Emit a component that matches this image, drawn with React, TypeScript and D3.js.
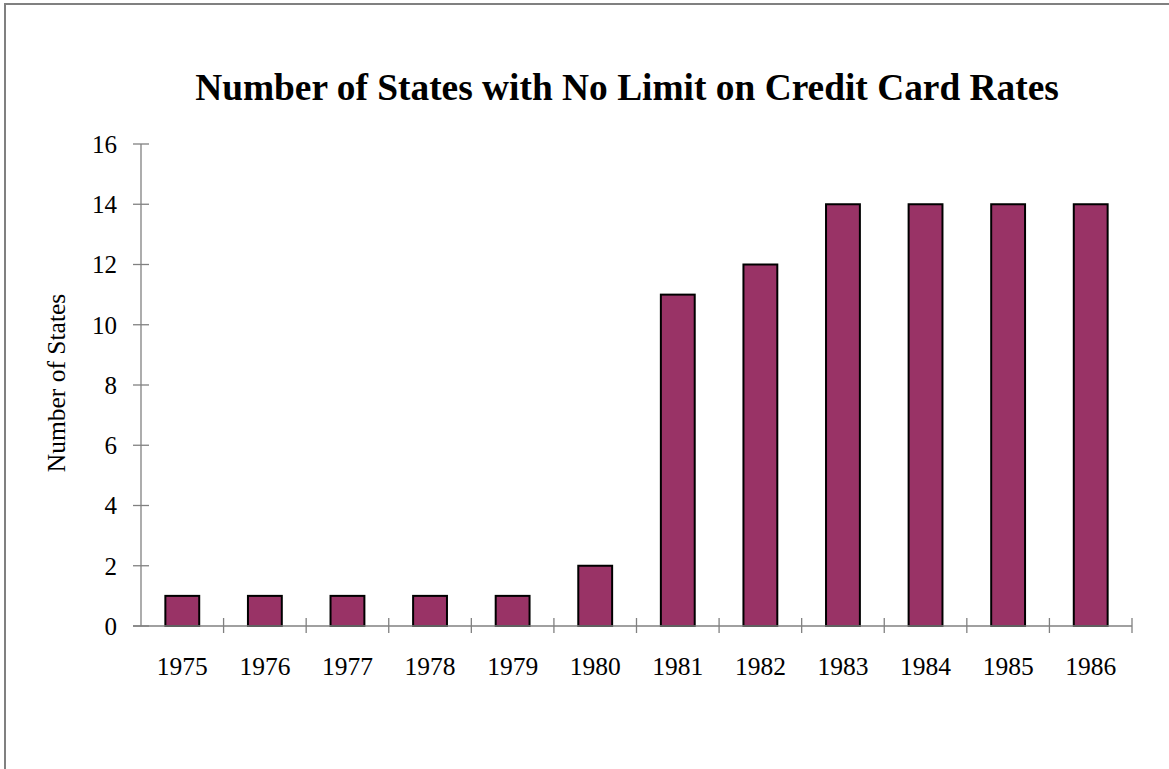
import React from "react";
import * as d3 from "d3";

const years = ["1975", "1976", "1977", "1978", "1979", "1980", "1981", "1982", "1983", "1984", "1985", "1986"];
const states = [1, 1, 1, 1, 1, 2, 11, 12, 14, 14, 14, 14];
const yTicks = [0, 2, 4, 6, 8, 10, 12, 14, 16];

const W = 1169;
const H = 769;
const left = 141;
const right = 1132;
const top = 144;
const bottom = 626;

export default function App() {
  const x = d3.scaleBand<string>().domain(years).range([left, right]).paddingInner(0).paddingOuter(0);
  const y = d3.scaleLinear().domain([0, 16]).range([bottom, top]);
  const bw = x.bandwidth() * 0.41;
  const font = "'Liberation Serif', 'Times New Roman', serif";
  const axisColor = "#808080";
  return (
    <svg width={W} height={H} style={{ position: "absolute", left: 0, top: 0, background: "#fff" }}>
      <rect x={5} y={4} width={W + 10} height={H + 10} fill="none" stroke={axisColor} strokeWidth={2} />
      <text x={627} y={100} textAnchor="middle" fontFamily={font} fontWeight="bold" fontSize={37.4} fill="#000">
        Number of States with No Limit on Credit Card Rates
      </text>
      <text
        transform={`translate(65,383) rotate(-90)`}
        textAnchor="middle"
        fontFamily={font}
        fontSize={25.5}
        fill="#000"
      >
        Number of States
      </text>
      {years.map((yr, i) => (
        <rect
          key={yr}
          x={(x(yr) as number) + x.bandwidth() / 2 - bw / 2}
          y={y(states[i])}
          width={bw}
          height={y(0) - y(states[i])}
          fill="#993366"
          stroke="#000"
          strokeWidth={2}
        />
      ))}
      <line x1={left} x2={left} y1={top} y2={bottom} stroke={axisColor} strokeWidth={1.3} />
      <line x1={left - 8} x2={right} y1={bottom} y2={bottom} stroke={axisColor} strokeWidth={1.3} />
      {yTicks.map((t) => (
        <g key={t}>
          <line x1={left - 8} x2={left + 8} y1={y(t)} y2={y(t)} stroke={axisColor} strokeWidth={1.3} />
          <text x={117} y={y(t)} dy="0.35em" textAnchor="end" fontFamily={font} fontSize={25} fill="#000">
            {t}
          </text>
        </g>
      ))}
      {years.map((yr) => (
        <line
          key={"t" + yr}
          x1={(x(yr) as number) + x.bandwidth()}
          x2={(x(yr) as number) + x.bandwidth()}
          y1={bottom - 8}
          y2={bottom + 7}
          stroke={axisColor}
          strokeWidth={1.3}
        />
      ))}
      {years.map((yr) => (
        <text
          key={"l" + yr}
          x={(x(yr) as number) + x.bandwidth() / 2}
          y={675}
          textAnchor="middle"
          fontFamily={font}
          fontSize={25.5}
          fill="#000"
        >
          {yr}
        </text>
      ))}
    </svg>
  );
}
